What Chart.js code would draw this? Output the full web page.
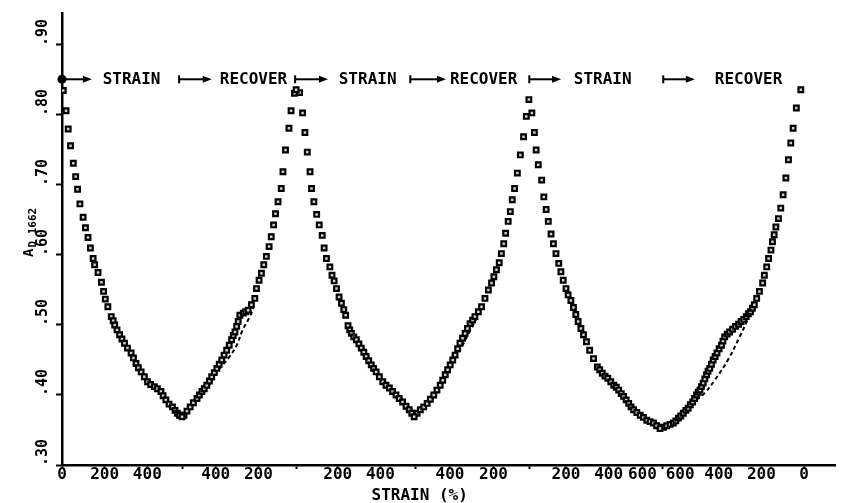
<!DOCTYPE html>
<html><head><meta charset="utf-8">
<script src="https://cdn.jsdelivr.net/npm/chart.js@4.4.1/dist/chart.umd.min.js"></script>
<style>html,body{margin:0;padding:0;background:#fff;}#wrap{width:842px;height:503px;}</style>
</head><body><div id="wrap"><canvas id="c" width="842" height="503"></canvas></div>
<script>
// x = cumulative strain travel (%), y = absorbance A_D 1662
const strain1U = [6,19,29,40,53,64,73,84,99,110,122,133,146,153,169,185,195,203,215,231,240,247,258,270,281,293,307,324,335,347,358,371,386,401,416,433,447,464,474,487,502,518,530,541,551,563];
const strain1A = [0.835,0.806,0.780,0.756,0.731,0.712,0.694,0.673,0.654,0.639,0.625,0.610,0.595,0.586,0.575,0.561,0.548,0.537,0.526,0.512,0.506,0.500,0.493,0.486,0.480,0.474,0.467,0.460,0.453,0.445,0.439,0.433,0.426,0.419,0.415,0.412,0.409,0.405,0.399,0.393,0.387,0.383,0.378,0.374,0.371,0.369];
const recover1U = [572,586,601,616,633,644,656,667,679,691,702,714,726,737,749,760,772,784,795,803,811,819,826,834,850,861,873,888,904,912,924,935,946,958,971,981,992,1001,1013,1028,1036,1048,1064,1074,1090,1098];
const recover1A = [0.371,0.377,0.383,0.389,0.395,0.400,0.405,0.409,0.414,0.420,0.426,0.432,0.438,0.444,0.450,0.457,0.464,0.471,0.479,0.485,0.490,0.498,0.505,0.514,0.517,0.519,0.521,0.529,0.538,0.552,0.564,0.574,0.586,0.598,0.612,0.626,0.643,0.659,0.676,0.695,0.719,0.750,0.781,0.806,0.831,0.836];
const strain2U = [1114,1128,1139,1150,1163,1170,1181,1194,1206,1220,1229,1240,1256,1266,1276,1287,1299,1310,1321,1330,1341,1349,1357,1368,1380,1392,1403,1415,1426,1438,1450,1461,1473,1488,1504,1519,1535,1550,1566,1581,1597,1613,1628,1640,1651];
const strain2A = [0.832,0.803,0.775,0.747,0.719,0.695,0.676,0.658,0.643,0.628,0.610,0.595,0.583,0.571,0.563,0.552,0.540,0.531,0.522,0.514,0.499,0.493,0.488,0.483,0.479,0.473,0.467,0.461,0.455,0.449,0.443,0.438,0.433,0.426,0.419,0.414,0.410,0.405,0.400,0.395,0.390,0.384,0.379,0.374,0.369];
const recover2U = [1665,1680,1696,1712,1727,1743,1758,1773,1785,1797,1808,1820,1832,1843,1855,1866,1878,1890,1901,1913,1925,1936,1952,1967,1983,1999,2014,2025,2037,2050,2060,2071,2080,2092,2102,2111,2122,2135,2149,2164,2177,2189];
const recover2A = [0.374,0.379,0.383,0.388,0.394,0.400,0.407,0.414,0.421,0.429,0.436,0.443,0.450,0.457,0.466,0.474,0.481,0.488,0.495,0.502,0.507,0.512,0.519,0.526,0.538,0.550,0.560,0.569,0.579,0.589,0.602,0.616,0.631,0.648,0.662,0.679,0.695,0.717,0.743,0.769,0.798,0.822];
const strain3U = [2203,2215,2223,2233,2249,2259,2270,2280,2293,2304,2316,2329,2339,2350,2363,2373,2386,2398,2409,2420,2433,2445,2459,2474,2492,2510,2521,2533,2546,2559,2573,2587,2599,2610,2622,2633,2645,2657,2668,2680,2695,2711,2726,2742,2757,2773,2788,2804];
const strain3A = [0.803,0.775,0.750,0.729,0.707,0.683,0.665,0.648,0.630,0.616,0.602,0.588,0.576,0.564,0.552,0.543,0.535,0.525,0.515,0.505,0.495,0.486,0.476,0.464,0.452,0.440,0.436,0.431,0.427,0.424,0.419,0.414,0.411,0.407,0.402,0.398,0.393,0.388,0.383,0.379,0.375,0.371,0.368,0.364,0.362,0.360,0.356,0.352];
const recover3U = [2820,2835,2851,2866,2878,2890,2901,2913,2925,2936,2946,2957,2966,2975,2983,2991,2998,3006,3014,3022,3029,3037,3045,3053,3062,3071,3081,3092,3099,3107,3119,3130,3144,3158,3172,3184,3196,3208,3218,3228,3237,3246,3257,3270,3285,3293,3304,3313,3324,3331,3339,3347,3359,3370,3381,3394,3406,3417,3428,3443,3464];
const recover3A = [0.354,0.356,0.358,0.360,0.363,0.367,0.370,0.374,0.378,0.381,0.386,0.390,0.395,0.400,0.404,0.407,0.412,0.417,0.423,0.429,0.434,0.438,0.444,0.450,0.455,0.460,0.466,0.471,0.477,0.483,0.487,0.490,0.494,0.498,0.501,0.505,0.508,0.512,0.516,0.519,0.524,0.529,0.538,0.548,0.560,0.571,0.583,0.595,0.607,0.619,0.629,0.640,0.652,0.667,0.686,0.710,0.736,0.760,0.781,0.810,0.836];
// dashed reference curves on recovery branches
const dash1U = [684,735,781,819,847,884,898];
const dash1A = [0.411,0.436,0.453,0.471,0.493,0.514,0.527];
const dash2U = [1772,1819,1874,1916,1952];
const dash2A = [0.419,0.441,0.469,0.493,0.514];
const dash3U = [2975,3014,3060,3122,3177,3209,3230];
const dash3A = [0.393,0.403,0.421,0.450,0.483,0.504,0.521];
// axis ticks
const xTickValues = [0,200,400,567,721,921,1098,1293,1493,1656,1819,2023,2191,2363,2563,2721,2814,2898,3079,3279,3479];
const xTickLabels = ['0','200','400','','400','200','','200','400','','400','200','','200','400','600','','600','400','200','0'];
const yTickValues = [0.30,0.40,0.50,0.60,0.70,0.80,0.90];
const yTickLabels = ['.30','.40','.50','.60','.70','.80','.90'];
// phase annotations
const phaseLabels = ['STRAIN','RECOVER','STRAIN','RECOVER','STRAIN','RECOVER'];
const phaseLabelU = [326,898,1433,1977,2535,3219];
const arrowStartU = [0,549,1093,1633,2191,2819];
const arrowEndU = [140,702,1247,1800,2340,2967];
const arrowA = 0.851;
const xTitle = 'STRAIN (%)';
const xTitleU = 1677;

const pts = (u, a) => u.map((v, i) => ({x: v, y: a[i]}));
const FONT = '"DejaVu Sans Mono"';

const markerDs = (d) => ({data: d, pointStyle: 'rect', pointRadius: 3.3, pointBorderWidth: 2.2,
  pointBorderColor: '#000', pointBackgroundColor: '#d0d0d0', showLine: false, order: 1});
const dashDs = (d) => ({data: d, showLine: true, pointRadius: 0, borderColor: '#000', borderWidth: 2,
  borderDash: [4, 3], tension: 0.4, fill: false, order: 2});

const overlay = {
  id: 'overlay',
  afterDraw(chart) {
    const {ctx, scales: {x, y}, chartArea} = chart;
    ctx.save();
    ctx.fillStyle = '#000'; ctx.strokeStyle = '#000';
    // y tick labels (rotated)
    ctx.font = 'bold 15px ' + FONT;
    ctx.textAlign = 'left'; ctx.textBaseline = 'middle';
    yTickValues.forEach((v, i) => {
      const py = y.getPixelForValue(v);
      ctx.save(); ctx.translate(chartArea.left - 19, py + 1); ctx.rotate(-Math.PI / 2);
      ctx.fillText(yTickLabels[i], 0, 0); ctx.restore();
    });
    // y title A_D 1662
    ctx.save(); ctx.translate(33, 257); ctx.rotate(-Math.PI / 2);
    ctx.textBaseline = 'alphabetic';
    ctx.font = 'bold 14px ' + FONT;
    ctx.fillText('A', 0, 0);
    const wA = ctx.measureText('A').width;
    ctx.font = 'bold 11px ' + FONT;
    ctx.fillText('D 1662', wA + 1, 3);
    ctx.restore();
    // x title
    ctx.font = 'bold 16px ' + FONT; ctx.textAlign = 'center'; ctx.textBaseline = 'middle';
    ctx.fillText(xTitle, x.getPixelForValue(xTitleU), 496);
    // phase annotations
    const ay = y.getPixelForValue(arrowA);
    phaseLabels.forEach((t, i) => ctx.fillText(t, x.getPixelForValue(phaseLabelU[i]), ay + 1));
    ctx.lineWidth = 2;
    arrowStartU.forEach((s, i) => {
      const x0 = x.getPixelForValue(s), x1 = x.getPixelForValue(arrowEndU[i]);
      ctx.beginPath(); ctx.moveTo(x0, ay); ctx.lineTo(x1 - 6, ay); ctx.stroke();
      ctx.beginPath(); ctx.moveTo(x1, ay); ctx.lineTo(x1 - 9, ay - 3.5); ctx.lineTo(x1 - 9, ay + 3.5); ctx.closePath(); ctx.fill();
      if (i === 0) { ctx.beginPath(); ctx.arc(x0, ay, 4.5, 0, Math.PI * 2); ctx.fill(); }
      else { ctx.beginPath(); ctx.moveTo(x0, ay - 4); ctx.lineTo(x0, ay + 4); ctx.stroke(); }
    });
    ctx.restore();
  }
};

new Chart(document.getElementById('c'), {
  type: 'scatter',
  data: {datasets: [
    markerDs(pts(strain1U, strain1A)), markerDs(pts(recover1U, recover1A)),
    markerDs(pts(strain2U, strain2A)), markerDs(pts(recover2U, recover2A)),
    markerDs(pts(strain3U, strain3A)), markerDs(pts(recover3U, recover3A)),
    dashDs(pts(dash1U, dash1A)), dashDs(pts(dash2U, dash2A)), dashDs(pts(dash3U, dash3A))
  ]},
  options: {
    responsive: false, animation: false, devicePixelRatio: 1,
    layout: {padding: {top: 13, right: 0, left: 0, bottom: 0}},
    plugins: {legend: {display: false}, tooltip: {enabled: false}},
    scales: {
      x: {type: 'linear', min: 0, max: 3628,
        afterBuildTicks: s => { s.ticks = xTickValues.map(v => ({value: v})); },
        afterFit: s => { s.height = 38; },
        ticks: {autoSkip: false, maxRotation: 0, minRotation: 0, padding: -4, color: '#000',
          font: {family: 'DejaVu Sans Mono', size: 16, weight: 'bold'},
          callback: (v, i) => xTickLabels[i]},
        grid: {drawOnChartArea: false, tickLength: 4, tickColor: '#000', tickWidth: 2},
        border: {color: '#000', width: 2.5}},
      y: {type: 'linear', min: 0.30, max: 0.9457,
        afterBuildTicks: s => { s.ticks = yTickValues.map(v => ({value: v})); },
        afterFit: s => { s.width = 62; },
        ticks: {display: false},
        grid: {drawOnChartArea: false, tickLength: 6, tickColor: '#000', tickWidth: 2},
        border: {color: '#000', width: 2.5}}
    }
  },
  plugins: [overlay]
});
</script></body></html>
